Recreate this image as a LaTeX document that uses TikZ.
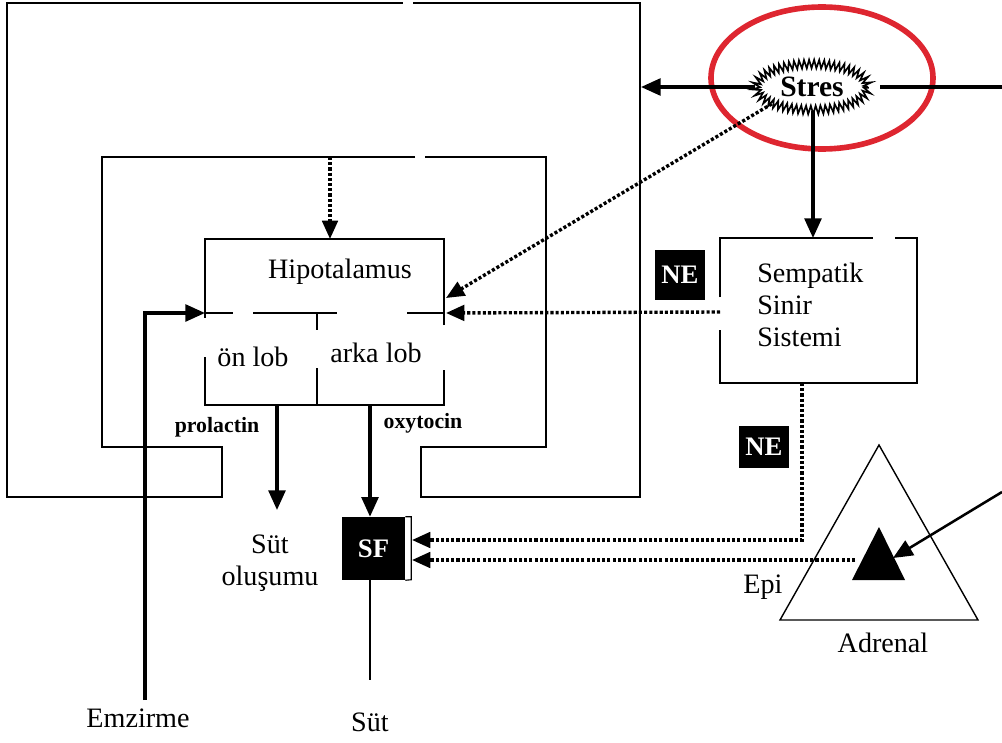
\documentclass[tikz,border=0pt]{standalone}
\usepackage{fontspec}
\setmainfont{Liberation Serif}
\usetikzlibrary{arrows.meta,positioning,calc,shapes.geometric,decorations.pathmorphing}
\definecolor{StressRed}{RGB}{222,38,48}
\tikzset{
  frame/.style={line width=1.3pt},
  thinline/.style={line width=0.8pt},
  arr/.style={-{Triangle[length=14pt,width=12pt]},line width=2.3pt},
  dotarr/.style={-{Triangle[length=13pt,width=11pt]},line width=2.4pt,
                 dash pattern=on 2.2pt off 1.5pt},
  lbl/.style={font=\fontsize{20}{23}\selectfont,inner sep=0pt},
  hlbl/.style={font=\fontsize{15.5}{18}\selectfont\bfseries,inner sep=0pt},
  blackbox/.style={fill=black,text=white,inner sep=0pt,
                   font=\fontsize{19}{22}\selectfont\bfseries},
  burst/.style={ellipse,draw,line width=1.2pt,decorate,
                decoration={zigzag,segment length=3.5pt,amplitude=3pt},
                minimum width=2.8cm,minimum height=1.15cm,
                font=\fontsize{21}{24}\selectfont\bfseries},
}

\begin{document}
\begin{tikzpicture}[x=0.025cm,y=-0.025cm]
  \useasboundingbox (0,0) rectangle (1002,743);
  % double frame round the hypothalamus
  \draw[frame] (413,3) -- (640,3) -- (640,497) -- (421,497) -- (421,447)
    -- (546,447) -- (546,157) -- (425,157)
    (415,157) -- (102,157) -- (102,447) -- (222,447) -- (222,497)
    -- (7,497) -- (7,3) -- (403,3);
  % hypothalamus box
  \node[lbl] (hipo) at (340,272) {Hipotalamus};
  \node[lbl] (onlob) at (253,357) {ön lob};
  \node[lbl] (arkalob) at (376,353) {arka lob};
  \draw[frame] (205,357) -- (205,405) -- (444,405) -- (444,370)
    (444,325) -- (444,239) -- (205,239) -- (205,318);
  \draw[thinline] (205,313) -- (233,313) (253,313) -- (337,313) (407,313) -- (444,313);
  \draw[thinline] (317,313) -- (317,330) (317,368) -- (317,405);
  \coordinate (hipoL) at (205,313);
  \coordinate (hipoR) at (446,313);
  \coordinate (hipoRup) at (446,298);
  \coordinate (hipoT) at (330,239);
  \coordinate (innerT) at (330,157);
  \coordinate (prlS) at (277,405);
  \coordinate (prlE) at (277,510);
  \coordinate (oxyS) at (370,405);
  % sympathetic box
  \node[lbl,align=left,anchor=west] (symp) at (757,305) {Sempatik\\Sinir\\Sistemi};
  \draw[frame] (895,238) -- (917,238) -- (917,383) -- (720,383) -- (720,330)
    (720,297) -- (720,238) -- (873,238);
  \coordinate (sympT) at (813,238);
  \coordinate (sympL) at (720,312);
  \coordinate (sympB) at (802,383);
  % stress
  \draw[StressRed,line width=4pt] (822,78) ellipse [x radius=111,y radius=71];
  \node[burst] (stres) at (812,87) {Stres};
  \coordinate (outerR) at (641,87);
  \coordinate (offR) at (1002,87);
  \draw[arr] (stres.west) -- (outerR);
  \draw[line width=2.3pt,shorten <=8pt] (stres.east) -- (offR);
  \draw[arr] (stres.south -| sympT) -- (sympT);
  \draw[dotarr] (stres.south west) -- (hipoRup);
  \draw[dotarr] (sympL) -- (hipoR);
  \draw[dotarr] (innerT) -- (hipoT);
  % suckling
  \node[lbl] (emz) at (138,718) {Emzirme};
  \coordinate (emzTop) at (145,700);
  \draw[arr] (emzTop) |- (hipoL);
  % hormones
  \node[hlbl] (prl) at (217,427) {prolactin};
  \node[hlbl] (oxy) at (423,423) {oxytocin};
  \node[lbl,align=center] (sutol) at (270,563) {Süt\\oluşumu};
  \draw[arr] (prlS) -- (prlE);
  \node[blackbox,minimum width=1.575cm,minimum height=1.575cm] (sf) at (373.5,548.5) {SF};
  \draw[line width=0.8pt] (sf.north east) -- ++(6,0) -- ++(0,63) -- (sf.south east);
  \draw[arr] (oxyS) -- (oxyS |- sf.north);
  \coordinate (sutE) at (370,680);
  \draw[line width=1pt] (sf.south -| sutE) -- (sutE);
  \node[lbl] (sut) at (370,722) {Süt};
  % adrenal
  \draw[line width=1pt] (879,445) -- (978,620) -- (780,620) -- cycle;
  \fill (879,527) -- (905,580) -- (852,580) -- cycle;
  \coordinate (adrTip) at (893,558);
  \coordinate (adrIn) at (855,560);
  \coordinate (offR2) at (1002,492);
  \draw[-{Triangle[length=14pt,width=12pt]},line width=1.8pt] (offR2) -- (adrTip);
  \node[lbl] (epi) at (763,587) {Epi};
  \node[lbl] (adr) at (883,643) {Adrenal};
  % to the myoepithelium
  \coordinate (sfIn1) at (412,540);
  \coordinate (sfIn2) at (412,560);
  \draw[dotarr] (sympB) |- (sfIn1);
  \draw[dotarr] (adrIn) -- (sfIn2);
  \node[blackbox,minimum width=1.25cm,minimum height=1.25cm] (ne1) at (680,275) {NE};
  \node[blackbox,minimum width=1.25cm,minimum height=1.03cm] (ne2) at (764,447) {NE};
\end{tikzpicture}
\end{document}
